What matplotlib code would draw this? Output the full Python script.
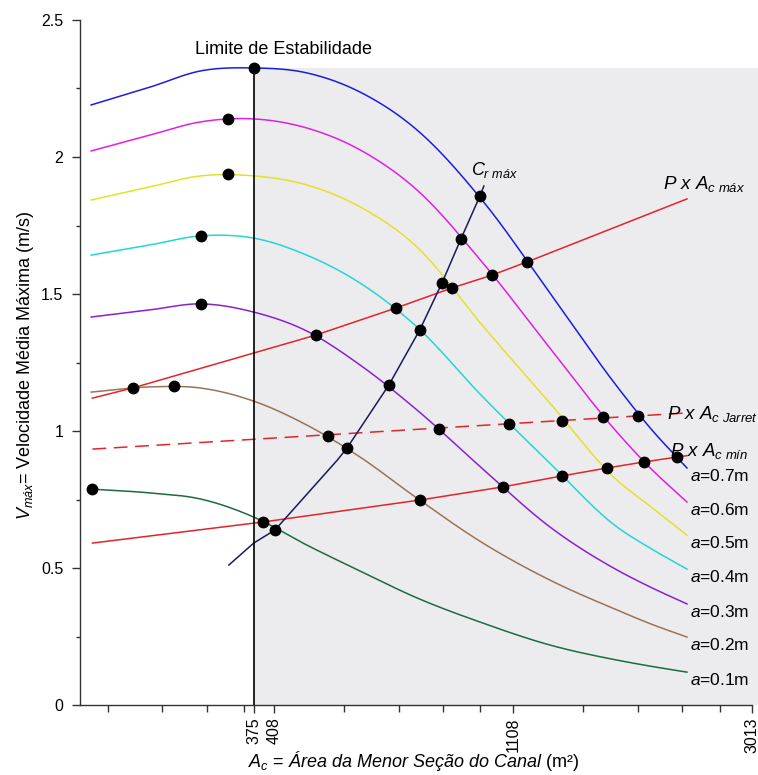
import matplotlib
matplotlib.use("Agg")
import matplotlib.pyplot as plt
import numpy as np
from matplotlib.ticker import FixedLocator, NullFormatter

plt.rcParams['font.family'] = ['Liberation Sans', 'DejaVu Sans']
plt.rcParams['mathtext.fontset'] = 'custom'
plt.rcParams['mathtext.rm'] = 'Liberation Sans'
plt.rcParams['mathtext.it'] = 'Liberation Sans:italic'
plt.rcParams['mathtext.bf'] = 'Liberation Sans:bold'

# ---------------- data ----------------
area = [190, 243, 300, 375, 468, 585, 742, 978, 1294, 1713, 1967, 2296]
v_a07 = [2.190, 2.255, 2.314, 2.325, 2.307, 2.237, 2.099, 1.839, 1.504, 1.163, 1.012, 0.865]
v_a06 = [2.022, 2.080, 2.128, 2.139, 2.106, 2.026, 1.880, 1.613, 1.303, 0.996, 0.866, 0.741]
v_a05 = [1.843, 1.891, 1.931, 1.931, 1.898, 1.818, 1.672, 1.383, 1.102, 0.821, 0.726, 0.620]
v_a04 = [1.642, 1.679, 1.712, 1.704, 1.642, 1.540, 1.380, 1.124, 0.883, 0.650, 0.573, 0.496]
v_a03 = [1.416, 1.442, 1.464, 1.434, 1.365, 1.241, 1.077, 0.861, 0.650, 0.493, 0.431, 0.369]
v_a02 = [1.142, 1.161, 1.157, 1.109, 1.022, 0.905, 0.755, 0.591, 0.456, 0.347, 0.297, 0.248]
v_a01 = [0.788, 0.774, 0.752, 0.686, 0.584, 0.489, 0.391, 0.299, 0.219, 0.164, 0.142, 0.120]
curve_labels = ['0.7', '0.6', '0.5', '0.4', '0.3', '0.2', '0.1']

# P x Ac lines
pmax_x = [191, 226, 486, 680, 859, 1016, 1176, 2296]
pmax_y = [1.120, 1.157, 1.350, 1.449, 1.522, 1.569, 1.617, 1.847]
jarret_x = [191, 2296]
jarret_y = [0.934, 1.066]
pmin_x = [191, 390, 751, 1063, 1361, 1643, 1918, 2202, 2296]
pmin_y = [0.591, 0.668, 0.748, 0.796, 0.836, 0.865, 0.887, 0.905, 0.910]

# Cr max curve
cr_x = [338, 375, 410, 532, 554, 660, 751, 824, 892, 966, 982]
cr_y = [0.511, 0.591, 0.639, 0.894, 0.938, 1.168, 1.369, 1.540, 1.701, 1.858, 1.894]

# marked points
max_x = [375, 337, 337, 301, 301, 269, 191]
max_y = [2.325, 2.139, 1.938, 1.712, 1.464, 1.164, 0.788]
ptmax_x = [226, 486, 680, 859, 1016, 1176]
ptmax_y = [1.157, 1.350, 1.449, 1.522, 1.569, 1.617]
ptcr_x = [410, 554, 660, 751, 824, 892, 966]
ptcr_y = [0.639, 0.938, 1.168, 1.369, 1.540, 1.701, 1.858]
ptjar_x = [511, 814, 1090, 1361, 1616, 1871]
ptjar_y = [0.982, 1.007, 1.026, 1.036, 1.051, 1.055]
ptmin_x = [390, 751, 1063, 1361, 1643, 1918, 2202]
ptmin_y = [0.668, 0.748, 0.796, 0.836, 0.865, 0.887, 0.905]

limit_area = 375
limit_v = 2.325
xticks_major = [375, 408, 1108, 3013]
xticks_minor = [204, 256, 308, 360, 548, 688, 828, 968, 1489, 1870, 2251, 2632]
yticks_major = [0, 0.5, 1, 1.5, 2, 2.5]
ytick_labels = ['0', '0.5', '1', '1.5', '2', '2.5']
yticks_minor = [0.25, 0.75, 1.25, 1.75, 2.25]


def smooth_path(xs, ys, n=30):
    """Smooth cubic Hermite path through the read points, in log-x space."""
    u = np.log10(np.asarray(xs, float))
    y = np.asarray(ys, float)
    h = np.diff(u)
    d = np.diff(y) / h
    m = np.empty_like(y)
    m[0], m[-1] = d[0], d[-1]
    m[1:-1] = (d[:-1] * h[1:] + d[1:] * h[:-1]) / (h[:-1] + h[1:])
    t = np.linspace(0, 1, n, endpoint=False)
    h00 = 2 * t**3 - 3 * t**2 + 1
    h10 = t**3 - 2 * t**2 + t
    h01 = -2 * t**3 + 3 * t**2
    h11 = t**3 - t**2
    uu, yy = [], []
    for i in range(len(h)):
        uu.append(u[i] + t * h[i])
        yy.append(h00 * y[i] + h10 * h[i] * m[i] + h01 * y[i + 1] + h11 * h[i] * m[i + 1])
    uu.append([u[-1]])
    yy.append([y[-1]])
    return 10 ** np.concatenate(uu), np.concatenate(yy)


# ---------------- figure ----------------
fig = plt.figure(figsize=(7.58, 7.75), dpi=100)
ax = fig.add_axes([0.1055, 0.0903, 0.8865, 0.8839])
ax.set_xscale('log')
ax.set_xlim(181.3, 3013)
ax.set_ylim(0, 2.5)

# shaded region
ax.fill_between([limit_area, 3120], 0, limit_v, color='#ececee', lw=0,
                zorder=0, clip_on=False)

colors = ['#1c1ce0', '#e020e0', '#e2e22a', '#22d6d6', '#8a22cc', '#9a7456', '#1e6a44']
series = [v_a07, v_a06, v_a05, v_a04, v_a03, v_a02, v_a01]
for vals, c, lab in zip(series, colors, curve_labels):
    sx, sy = smooth_path(area, vals)
    ax.plot(sx, sy, color=c, lw=1.1, zorder=2)
    ax.text(2325, vals[-1] - 0.03, r'$a$=' + lab + 'm', fontsize=12.5,
            ha='left', va='center', zorder=6)

red = '#e3242b'
ax.plot(pmax_x, pmax_y, color=red, lw=1.1, zorder=3)
ax.plot(jarret_x, jarret_y, color=red, lw=1.1, dashes=(9, 5), zorder=3)
ax.plot(pmin_x, pmin_y, color=red, lw=1.1, zorder=3)
ax.plot(cr_x, cr_y, color='#1a1a5e', lw=1.1, zorder=3)

ax.plot([limit_area, limit_area], [0, limit_v], color='black', lw=1.2, zorder=4)

for xs, ys in [(max_x, max_y), (ptmax_x, ptmax_y), (ptcr_x, ptcr_y),
               (ptjar_x, ptjar_y), (ptmin_x, ptmin_y)]:
    ax.plot(xs, ys, 'o', color='black', ms=7.5, zorder=5, clip_on=False)

# annotations
ax.text(424, 2.391, 'Limite de Estabilidade', fontsize=13, ha='center', va='center')
ax.text(930, 1.934, r'$C_{r\ máx}$', fontsize=13, ha='left', va='baseline')
ax.text(2077, 1.883, r'$P\ x\ A_{c\ máx}$', fontsize=13.5, ha='left', va='baseline')
ax.text(2112, 1.044, r'$P\ x\ A_{c\ Jarret}$', fontsize=13.5, ha='left', va='baseline')
ax.text(2138, 0.909, r'$P\ x\ A_{c\ mín}$', fontsize=13.5, ha='left', va='baseline')

# axes styling
for s in ['top', 'right']:
    ax.spines[s].set_visible(False)
for s in ['left', 'bottom']:
    ax.spines[s].set_color('#333333')
    ax.spines[s].set_linewidth(1.0)

ax.xaxis.set_major_locator(FixedLocator(xticks_major))
ax.xaxis.set_minor_locator(FixedLocator(xticks_minor))
ax.set_xticklabels([str(v) for v in xticks_major], rotation=90, fontsize=11.5)
ax.xaxis.set_minor_formatter(NullFormatter())
ax.set_yticks(yticks_major)
ax.set_yticklabels(ytick_labels, fontsize=11.5)
ax.set_yticks(yticks_minor, minor=True)
ax.tick_params(axis='both', which='major', direction='out', length=6, width=1,
               color='#333333', pad=6)
ax.tick_params(axis='x', which='major', pad=3)
ax.tick_params(axis='x', which='minor', direction='out', length=5, width=1, color='#333333')
ax.tick_params(axis='y', which='minor', direction='out', length=3, width=1, color='#333333')

fig.text(26 / 758, 1 - 365 / 775, r'$V_{máx}$= Velocidade Média Máxima (m/s)',
         rotation=90, ha='center', va='center', fontsize=13)
fig.text(414 / 758, 1 - 761 / 775,
         r'$A_c$ = $\mathit{Área\ da\ Menor\ Seção\ do\ Canal}$ (m²)',
         ha='center', va='center', fontsize=13)

fig.savefig('out.png', dpi=100)
